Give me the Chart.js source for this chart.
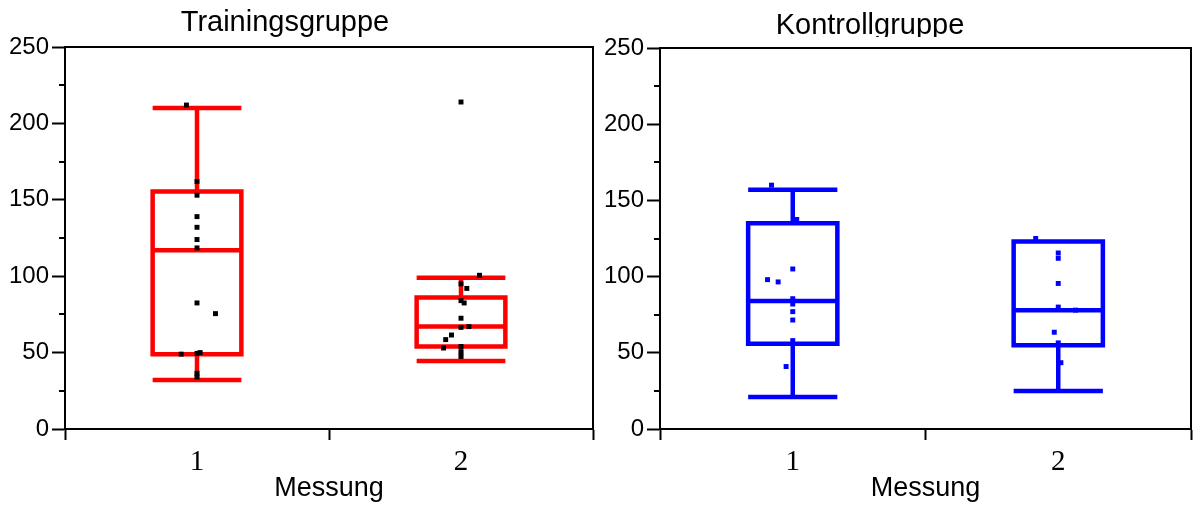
<!DOCTYPE html>
<html>
<head>
<meta charset="utf-8">
<script src="https://cdn.jsdelivr.net/npm/chart.js@4/dist/chart.umd.min.js"></script>
<style>
  html, body { margin: 0; padding: 0; background: #fff; }
  #wrap { position: relative; width: 1196px; height: 506px; overflow: hidden; }
  canvas { position: absolute; top: 0; }
</style>
</head>
<body>
<div id="wrap">
  <canvas id="train" width="598" height="506" style="left:0"></canvas>
  <canvas id="control" width="598" height="506" style="left:598px"></canvas>
</div>
<script>
// Categories on the x axis (Messung 1 / 2)
const categories = ['1', '2'];
const yMajorTicks = [0, 50, 100, 150, 200, 250];
const yMinorTicks = [25, 75, 125, 175, 225];

// Five-number summaries: [min, q1, median, q3, max]
const trainStats1 = [32, 49, 117, 155.5, 210];
const trainStats2 = [44.5, 54, 67, 86, 99];
const controlStats1 = [21, 56, 84, 135, 157];
const controlStats2 = [25, 55, 78, 123, 123];

// Individual observations and their horizontal jitter (in category units)
const trainValues1 = [212, 162, 153, 139, 132, 124, 118.5, 82.5, 75.5, 49, 49.5, 50, 36.5, 34];
const trainJitter1 = [-0.04, 0, 0, 0, 0, 0, 0, 0, 0.07, -0.06, 0, 0.012, 0, 0];
const trainValues2 = [214, 100.6, 95, 92, 84, 82.5, 72.5, 66.5, 67, 61.5, 58.5, 53, 54, 50.5, 47.5];
const trainJitter2 = [0, 0.07, 0, 0.022, 0, 0.012, 0, 0, 0.03, -0.036, -0.058, -0.066, 0, 0, 0];
const controlValues1 = [160, 137.5, 105, 98, 96.5, 85.5, 82, 77, 71.5, 58, 41];
const controlJitter1 = [-0.08, 0.015, 0, -0.095, -0.055, 0, 0, 0, 0, 0, -0.025];
const controlValues2 = [125, 115.5, 112, 95.5, 80, 78, 63.5, 56.5, 43.5];
const controlJitter2 = [-0.085, 0, 0, 0, 0, 0.065, -0.015, 0, 0.01];

const BOX_HALF = 0.168;

// Builds a polyline (with null gaps) tracing whiskers, box and median
function boxPath(stats, center) {
  const [mn, q1, md, q3, mx] = stats;
  const l = center - BOX_HALF, r = center + BOX_HALF;
  const gap = { x: center, y: null };
  return [
    { x: l, y: mx }, { x: r, y: mx }, gap,
    { x: center, y: mx }, { x: center, y: q3 }, gap,
    { x: l, y: q1 }, { x: r, y: q1 }, { x: r, y: q3 }, { x: l, y: q3 }, { x: l, y: q1 }, { x: r, y: q1 }, gap,
    { x: l, y: md }, { x: r, y: md }, gap,
    { x: center, y: q1 }, { x: center, y: mn }, gap,
    { x: l, y: mn }, { x: r, y: mn }
  ];
}

function points(values, jitter, center) {
  return values.map((v, i) => ({ x: center + jitter[i], y: v }));
}

// Draws headline, minor y ticks and the top/right frame
const decoPlugin = {
  id: 'deco',
  afterDraw(chart, args, opts) {
    const { ctx, chartArea } = chart;
    const y = chart.scales.y;
    ctx.save();
    ctx.strokeStyle = '#000';
    ctx.lineWidth = 2;
    ctx.beginPath();
    yMinorTicks.forEach(v => {
      const py = Math.round(y.getPixelForValue(v));
      ctx.moveTo(chartArea.left - 6, py);
      ctx.lineTo(chartArea.left, py);
    });
    ctx.moveTo(chartArea.left, chartArea.top);
    ctx.lineTo(chartArea.right, chartArea.top);
    ctx.lineTo(chartArea.right, chartArea.bottom);
    ctx.stroke();
    ctx.restore();

    ctx.save();
    ctx.beginPath();
    ctx.rect(0, 0, chart.width, opts.clipY);
    ctx.clip();
    ctx.fillStyle = '#000';
    ctx.font = '29px "Liberation Sans", Arial, sans-serif';
    ctx.textAlign = 'center';
    ctx.textBaseline = 'alphabetic';
    ctx.fillText(opts.text, opts.x, opts.y);
    ctx.restore();
  }
};

function makeChart(id, title, stats1, stats2, vals1, jit1, vals2, jit2, color, pointColor, pad, deco) {
  return new Chart(document.getElementById(id), {
    type: 'scatter',
    data: {
      datasets: [
        { data: boxPath(stats1, 1), showLine: true, spanGaps: false, borderColor: color, borderWidth: 4.5,
          pointRadius: 0, borderCapStyle: 'butt', borderJoinStyle: 'miter', order: 2 },
        { data: boxPath(stats2, 2), showLine: true, spanGaps: false, borderColor: color, borderWidth: 4.5,
          pointRadius: 0, borderCapStyle: 'butt', borderJoinStyle: 'miter', order: 2 },
        { data: points(vals1, jit1, 1), pointStyle: 'rect', pointRadius: 3.5, backgroundColor: pointColor,
          borderColor: pointColor, borderWidth: 0, order: 1 },
        { data: points(vals2, jit2, 2), pointStyle: 'rect', pointRadius: 3.5, backgroundColor: pointColor,
          borderColor: pointColor, borderWidth: 0, order: 1 }
      ]
    },
    options: {
      responsive: false,
      animation: false,
      events: [],
      layout: { padding: pad },
      plugins: { legend: { display: false }, tooltip: { enabled: false }, deco: Object.assign({ text: title }, deco) },
      scales: {
        x: {
          type: 'linear', min: 0.5, max: 2.5,
          afterBuildTicks: s => { s.ticks = [0.5, 1, 1.5, 2, 2.5].map(v => ({ value: v })); },
          afterFit: s => { s.height = 77; },
          grid: { drawOnChartArea: false, tickLength: 11, tickWidth: 2,
                  tickColor: c => Number.isInteger(c.tick.value) ? 'rgba(0,0,0,0)' : '#000' },
          border: { color: '#000', width: 2 },
          ticks: { callback: v => Number.isInteger(v) ? categories[v - 1] : '', autoSkip: false, maxRotation: 0,
                   color: '#000', padding: 5, font: { family: '"Liberation Serif", "Times New Roman", serif', size: 29 } },
          title: { display: true, text: 'Messung', color: '#000', padding: { top: 0, bottom: 1 },
                   font: { family: '"Liberation Sans", Arial, sans-serif', size: 27 } }
        },
        y: {
          min: 0, max: 250,
          afterBuildTicks: s => { s.ticks = yMajorTicks.map(v => ({ value: v })); },
          afterFit: s => { s.width = pad.yWidth; },
          grid: { drawOnChartArea: false, tickLength: 13, tickWidth: 2, tickColor: '#000' },
          border: { color: '#000', width: 2 },
          ticks: { color: '#000', padding: 3, font: { family: '"Liberation Sans", Arial, sans-serif', size: 24 } }
        }
      }
    },
    plugins: [decoPlugin]
  });
}

makeChart('train', 'Trainingsgruppe', trainStats1, trainStats2, trainValues1, trainJitter1, trainValues2, trainJitter2,
  '#ff0000', '#000000', { left: 0, right: 1, top: 47, bottom: 0, yWidth: 65 },
  { x: 285, y: 31, clipY: 60 });
makeChart('control', 'Kontrollgruppe', controlStats1, controlStats2, controlValues1, controlJitter1, controlValues2, controlJitter2,
  '#0000ff', '#0000ff', { left: 0, right: 4, top: 48, bottom: 0, yWidth: 62 },
  { x: 272, y: 34, clipY: 37 });
</script>
</body>
</html>
